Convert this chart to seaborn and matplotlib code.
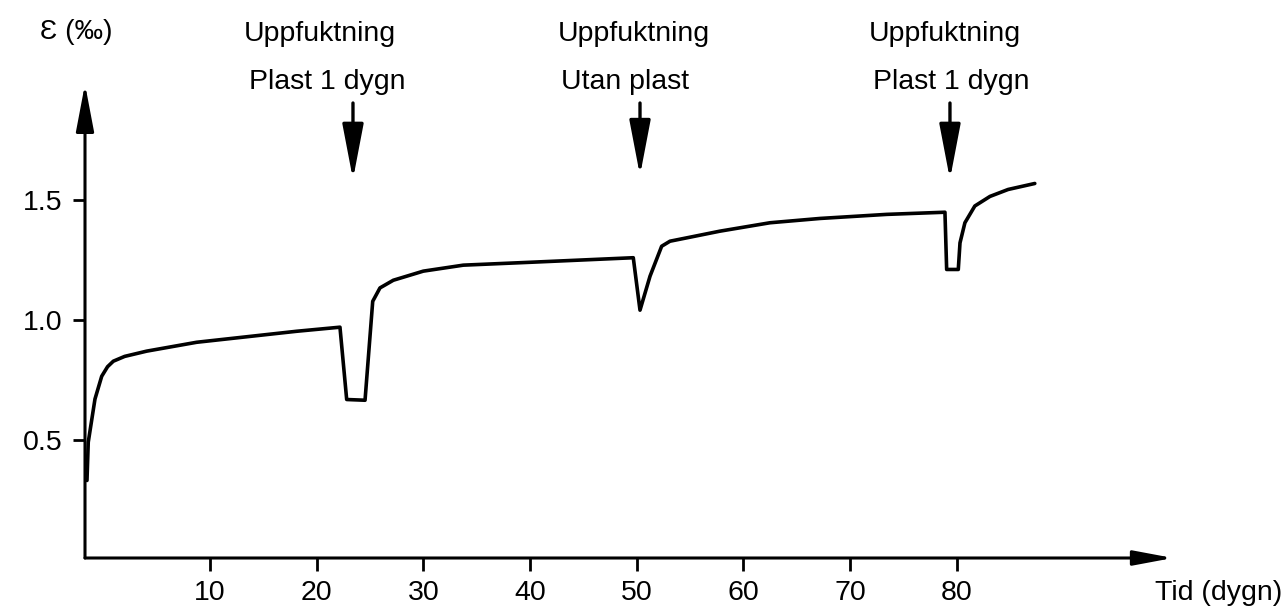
import matplotlib
matplotlib.use("Agg")
import matplotlib.pyplot as plt
import seaborn as sns
import pandas as pd

# ---- data (time in days, strain in per mille) ----
tid = [-1.53, -1.41, -0.78, -0.15, 0.4, 0.94, 2.0, 4.07, 8.75, 13.44, 18.13, 22.18,
       22.81, 24.53, 25.25, 25.93, 27.18, 29.99, 33.74, 40.0, 49.67,
       50.30, 51.24, 52.33, 53.11, 54.68, 57.80, 62.48, 67.17, 73.42, 78.88,
       79.04, 80.13, 80.29, 80.75, 81.68, 83.1, 84.8, 87.3]
epsilon = [0.33, 0.49, 0.67, 0.765, 0.805, 0.828, 0.848, 0.87, 0.907, 0.93, 0.953, 0.97,
           0.668, 0.665, 1.078, 1.134, 1.166, 1.204, 1.229, 1.241, 1.26,
           1.041, 1.183, 1.308, 1.329, 1.343, 1.371, 1.406, 1.424, 1.441, 1.450,
           1.211, 1.211, 1.322, 1.406, 1.476, 1.516, 1.545, 1.57]

x_ticks = [10, 20, 30, 40, 50, 60, 70, 80]
x_ticklabels = ["10", "20", "30", "40", "50", "60", "70", "80"]
y_ticks = [0.5, 1.0, 1.5]
y_ticklabels = ["0.5", "1.0", "1.5"]

event_x = [23.4, 50.3, 79.35]
event_tip_y = [1.587, 1.603, 1.587]
event_titles = ["Uppfuktning", "Uppfuktning", "Uppfuktning"]
event_subtitles = ["Plast 1 dygn", "Utan plast", "Plast 1 dygn"]

x_label = "Tid (dygn)"
y_label = "\u0190 (\u2030)"

# ---- style ----
sns.set_style("white")
plt.rcParams["font.family"] = ["Liberation Sans", "DejaVu Sans"]
plt.rcParams["text.color"] = "black"
plt.rcParams["xtick.color"] = "black"
plt.rcParams["ytick.color"] = "black"
FS = 20.5
W, H = 1285, 608

def fx(px):
    return px / W

def fy(py):
    return 1 - py / H

fig = plt.figure(figsize=(W / 100, H / 100), dpi=100)
ax = fig.add_axes([fx(85), fy(558), (1173 - 85) / W, (558 - 84) / H])

df = pd.DataFrame({"tid": tid, "eps": epsilon})
sns.lineplot(data=df, x="tid", y="eps", ax=ax, color="black", linewidth=2.6,
             sort=False, estimator=None)

ax.set_xlim((85 - 103.3) / 10.67, (1173 - 103.3) / 10.67)
ax.set_ylim((559.5 - 558) / 239.5, (559.5 - 84) / 239.5)

for s in ax.spines.values():
    s.set_visible(False)

ax.set_xticks(x_ticks)
ax.set_xticklabels(x_ticklabels)
ax.set_yticks(y_ticks)
ax.set_yticklabels(y_ticklabels)
ax.tick_params(axis="x", direction="out", length=9, width=2, pad=7,
               labelsize=FS, colors="black", bottom=True)
ax.tick_params(axis="y", direction="out", length=9, width=2, pad=7,
               labelsize=FS, colors="black", left=True)
ax.set_xlabel("")
ax.set_ylabel("")

# axis arrows
ax.annotate("", xy=(1, 0), xytext=(0, 0), xycoords="axes fraction",
            textcoords="axes fraction",
            arrowprops=dict(arrowstyle="-|>,head_length=2.4,head_width=0.45",
                            mutation_scale=10, lw=2.2, color="black",
                            shrinkA=0, shrinkB=0), annotation_clip=False)
ax.annotate("", xy=(0, 1), xytext=(0, 0), xycoords="axes fraction",
            textcoords="axes fraction",
            arrowprops=dict(arrowstyle="-|>,head_length=2.9,head_width=0.55",
                            mutation_scale=10, lw=2.2, color="black",
                            shrinkA=0, shrinkB=0), annotation_clip=False)

# event arrows
shaft_top = (559.5 - 103) / 239.5
for ex, ey in zip(event_x, event_tip_y):
    ax.annotate("", xy=(ex, ey), xytext=(ex, shaft_top), xycoords="data",
                arrowprops=dict(arrowstyle="-|>,head_length=3.4,head_width=0.65",
                                mutation_scale=10, lw=2.4, color="black",
                                shrinkA=0, shrinkB=0), annotation_clip=False)

# event texts
title_px = [320, 634, 945]
sub_px = [327, 625, 951]
for t, s, tx, sx in zip(event_titles, event_subtitles, title_px, sub_px):
    fig.text(fx(tx), fy(41), t, ha="center", va="baseline", fontsize=FS, color="black")
    fig.text(fx(sx), fy(89), s, ha="center", va="baseline", fontsize=FS, color="black")

fig.text(fx(40), fy(39), y_label, ha="left", va="baseline", fontsize=FS, color="black")
fig.text(fx(1282), fy(600), x_label, ha="right", va="baseline", fontsize=FS, color="black")

fig.savefig("out.png", dpi=100, facecolor="white")
